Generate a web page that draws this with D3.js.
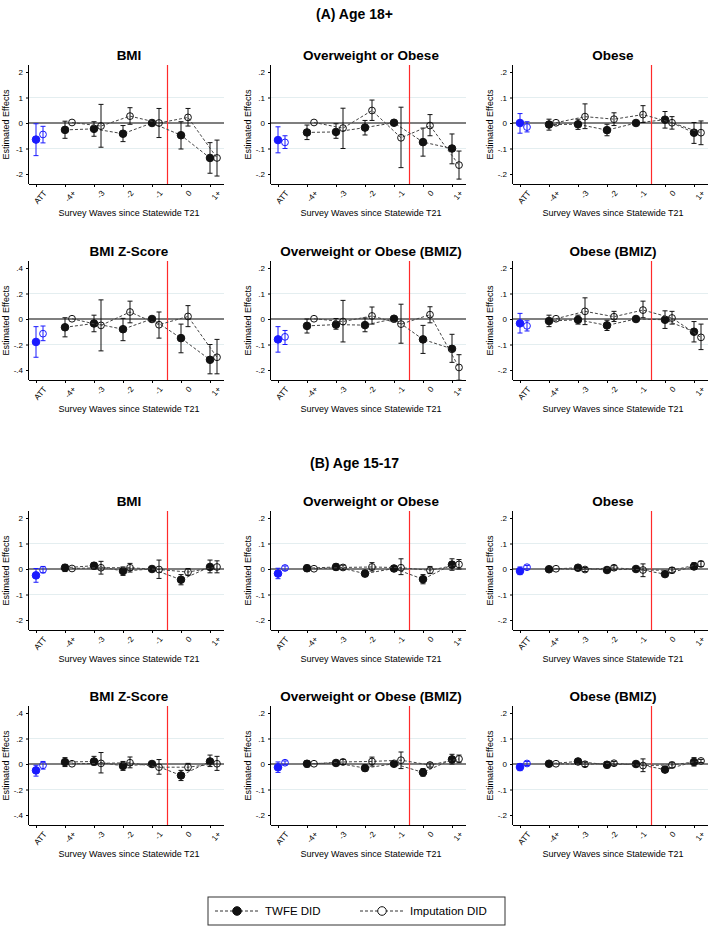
<!DOCTYPE html>
<html><head><meta charset="utf-8">
<script src="https://cdn.jsdelivr.net/npm/d3@7"></script>
<style>body{margin:0;background:#fff;font-family:"Liberation Sans",Arial,sans-serif}</style>
</head><body>
<script>
var categories = ["ATT", "-4+", "-3", "-2", "-1", "0", "1+"];
var sectionTitles = ["(A) Age 18+", "(B) Age 15-17"];
var panelTitles = ["BMI", "Overweight or Obese", "Obese", "BMI Z-Score", "Overweight or Obese (BMIZ)", "Obese (BMIZ)"];
var axisMax = [2, 0.2, 0.2, 0.4, 0.2, 0.2];
var tickLabels = [["2","1","0","-1","-2"], [".2",".1","0","-.1","-.2"], [".2",".1","0","-.1","-.2"],
                  [".4",".2","0","-.2","-.4"], [".2",".1","0","-.1","-.2"], [".2",".1","0","-.1","-.2"]];

// each entry: [estimate, lower, upper] for ATT, -4+, -3, -2, -1, 0, 1+
var twfeA = [
 [[-0.65,-1.28,-0.03],[-0.27,-0.6,0.07],[-0.23,-0.52,0.05],[-0.42,-0.73,-0.1],[0,0,0],[-0.48,-1.02,0.05],[-1.37,-1.97,-0.77]],
 [[-0.067,-0.117,-0.015],[-0.037,-0.065,-0.008],[-0.035,-0.06,-0.003],[-0.018,-0.047,0.01],[0.001,0.001,0.001],[-0.075,-0.13,-0.02],[-0.1,-0.16,-0.043]],
 [[0,-0.04,0.037],[-0.006,-0.028,0.015],[-0.005,-0.025,0.015],[-0.028,-0.05,-0.005],[0,0,0],[0.013,-0.02,0.045],[-0.038,-0.08,0.002]],
 [[-0.18,-0.3,-0.06],[-0.065,-0.14,0.01],[-0.035,-0.1,0.03],[-0.08,-0.17,0.005],[0,0,0],[-0.15,-0.265,-0.04],[-0.32,-0.43,-0.2]],
 [[-0.08,-0.13,-0.03],[-0.027,-0.055,0],[-0.022,-0.04,0.002],[-0.024,-0.05,0.004],[0.001,0.001,0.001],[-0.08,-0.135,-0.025],[-0.117,-0.17,-0.06]],
 [[-0.017,-0.055,0.022],[-0.008,-0.03,0.015],[-0.003,-0.02,0.015],[-0.025,-0.045,-0.005],[0,0,0],[-0.003,-0.037,0.032],[-0.05,-0.09,-0.01]]
];
var impA = [
 [[-0.45,-0.78,-0.13],[0.02,0.02,0.02],[-0.12,-0.95,0.73],[0.27,-0.05,0.6],[0,-0.57,0.57],[0.22,-0.12,0.57],[-1.37,-2.08,-0.67]],
 [[-0.076,-0.1,-0.05],[0.002,0.002,0.002],[-0.02,-0.1,0.058],[0.049,0.01,0.09],[-0.058,-0.175,0.062],[-0.01,-0.05,0.033],[-0.165,-0.22,-0.11]],
 [[-0.016,-0.035,0.005],[0.001,0.001,0.001],[0.025,-0.022,0.075],[0.015,-0.01,0.04],[0.033,0.002,0.068],[0.001,-0.024,0.025],[-0.038,-0.085,0.008]],
 [[-0.115,-0.17,-0.055],[0.002,0.002,0.002],[-0.05,-0.25,0.15],[0.055,-0.03,0.14],[-0.045,-0.15,0.055],[0.02,-0.06,0.105],[-0.3,-0.43,-0.16]],
 [[-0.07,-0.1,-0.045],[0.001,0.001,0.001],[-0.01,-0.09,0.073],[0.012,-0.02,0.047],[-0.02,-0.095,0.058],[0.017,-0.015,0.048],[-0.19,-0.24,-0.14]],
 [[-0.027,-0.047,-0.007],[0.001,0.001,0.001],[0.03,-0.022,0.083],[0.009,-0.01,0.03],[0.035,0.005,0.07],[0.004,-0.02,0.03],[-0.072,-0.12,-0.02]]
];
var twfeB = [
 [[-0.25,-0.52,0.02],[0.05,-0.1,0.18],[0.13,0,0.25],[-0.08,-0.25,0.08],[0,0,0],[-0.42,-0.62,-0.22],[0.08,-0.15,0.35]],
 [[-0.018,-0.038,0.003],[0.003,-0.01,0.015],[0.008,-0.004,0.02],[-0.018,-0.03,-0.005],[0.002,0.002,0.002],[-0.04,-0.058,-0.022],[0.017,-0.005,0.04]],
 [[-0.008,-0.022,0.008],[-0.001,-0.001,-0.001],[0.005,-0.003,0.012],[-0.004,-0.012,0.004],[0,0,0],[-0.02,-0.03,-0.01],[0.01,-0.002,0.025]],
 [[-0.05,-0.095,-0.01],[0.015,-0.02,0.05],[0.02,-0.01,0.06],[-0.015,-0.05,0.02],[0,0,0],[-0.09,-0.13,-0.05],[0.02,-0.02,0.07]],
 [[-0.013,-0.033,0.008],[0.001,-0.012,0.013],[0.004,-0.005,0.012],[-0.016,-0.028,-0.004],[0.001,0.001,0.001],[-0.033,-0.048,-0.018],[0.018,0,0.038]],
 [[-0.012,-0.026,0.002],[0.001,0.001,0.001],[0.01,0.004,0.016],[-0.003,-0.015,0.008],[0,0,0],[-0.022,-0.032,-0.012],[0.008,-0.008,0.025]]
];
var impB = [
 [[-0.03,-0.15,0.1],[0.02,0.02,0.02],[0.05,-0.2,0.3],[0.05,-0.12,0.22],[-0.02,-0.37,0.35],[-0.12,-0.25,0.02],[0.08,-0.15,0.32]],
 [[0.004,-0.005,0.012],[0.001,0.001,0.001],[0.006,-0.003,0.015],[0.008,-0.008,0.025],[0.005,-0.022,0.04],[-0.005,-0.018,0.01],[0.018,0,0.037]],
 [[0.007,0,0.014],[0.001,0.001,0.001],[-0.002,-0.01,0.006],[0.005,-0.004,0.013],[-0.004,-0.03,0.02],[-0.005,-0.015,0.006],[0.02,0.01,0.03]],
 [[-0.01,-0.04,0.02],[0.002,0.002,0.002],[0.005,-0.07,0.09],[0.01,-0.03,0.055],[-0.025,-0.08,0.035],[-0.025,-0.05,0.005],[0.002,-0.05,0.06]],
 [[0.005,-0.003,0.012],[0.001,0.001,0.001],[0.008,-0.002,0.018],[0.01,-0.008,0.027],[0.015,-0.018,0.047],[-0.004,-0.012,0.004],[0.02,0.005,0.035]],
 [[0.002,-0.006,0.01],[0.001,0.001,0.001],[-0.001,-0.01,0.008],[0.003,-0.005,0.01],[-0.006,-0.03,0.02],[-0.004,-0.015,0.007],[0.012,0.006,0.018]]
];
var legendLabels = ["TWFE DID", "Imputation DID"];

var W = 709, H = 926;
var svg = d3.select("body").append("svg").attr("width", W).attr("height", H)
  .style("font-family", '"Liberation Sans", Arial, sans-serif');

svg.append("text").attr("x", W/2).attr("y", 19).attr("text-anchor", "middle")
  .attr("font-weight", "bold").attr("font-size", 14).text(sectionTitles[0]);
svg.append("text").attr("x", W/2).attr("y", 468).attr("text-anchor", "middle")
  .attr("font-weight", "bold").attr("font-size", 14).text(sectionTitles[1]);

var rowTop = [72, 268, 518, 713];   // y pixel of top tick
var colLeft = [29, 271, 513];        // y axis x pixel
var span = 102;

function drawPanel(row, col, idx, twfe, imp) {
  var g = svg.append("g");
  var top = rowTop[row], left = colLeft[col];
  var m = axisMax[idx];
  var y = d3.scaleLinear().domain([m, -m]).range([top, top + span]);
  var x = d3.scalePoint().domain(categories).range([left + 7, left + 181]);
  var plotTop = top - 7, plotBottom = top + span + 10, right = left + 195;

  g.append("text").attr("x", left + 100).attr("y", top - 12).attr("text-anchor", "middle")
    .attr("font-weight", "bold").attr("font-size", 13.5).text(panelTitles[idx]);

  // faint grid
  [m/2, -m/2].forEach(function(v) {
    g.append("line").attr("x1", left).attr("x2", right).attr("y1", y(v)).attr("y2", y(v))
      .attr("stroke", "#e4eef0").attr("stroke-width", 1);
  });
  // zero line
  g.append("line").attr("x1", left).attr("x2", right).attr("y1", y(0)).attr("y2", y(0))
    .attr("stroke", "#555").attr("stroke-width", 1.6);
  // red line between -1 and 0
  var rx = (x("-1") + x("0")) / 2 + 1;
  g.append("line").attr("x1", rx).attr("x2", rx).attr("y1", plotTop).attr("y2", plotBottom)
    .attr("stroke", "#ff2a2a").attr("stroke-width", 1.2);

  // y axis
  var yAxis = g.append("g").attr("transform", "translate(" + left + ",0)")
    .call(d3.axisLeft(y).tickValues([m, m/2, 0, -m/2, -m]).tickSize(3)
      .tickFormat(function(d, i) { return tickLabels[idx][i]; }));
  yAxis.select(".domain").attr("d", "M-0.5," + plotTop + "V" + plotBottom);
  yAxis.selectAll("text").attr("font-size", 8).attr("font-family", '"Liberation Sans", Arial');
  // x axis
  var xAxis = g.append("g").attr("transform", "translate(0," + plotBottom + ")")
    .call(d3.axisBottom(x).tickSize(3));
  xAxis.select(".domain").attr("d", "M" + left + ",0.5H" + right);
  xAxis.selectAll("text").attr("font-size", 8).attr("font-family", '"Liberation Sans", Arial')
    .attr("fill", "#000")
    .attr("text-anchor", "end").attr("transform", "translate(3,3) rotate(-50)").attr("dy", "0.5em").attr("dx", "0");

  g.append("text").attr("x", left - 20).attr("y", (plotTop + plotBottom) / 2)
    .attr("transform", "rotate(-90," + (left - 20) + "," + ((plotTop + plotBottom) / 2) + ")")
    .attr("text-anchor", "middle").attr("font-size", 9).text("Estimated Effects");
  g.append("text").attr("x", left + 100).attr("y", top + 144).attr("text-anchor", "middle")
    .attr("font-size", 9).text("Survey Waves since Statewide T21");

  var series = [{d: twfe, off: 0, filled: true}, {d: imp, off: 7, filled: false}];
  series.forEach(function(s) {
    var pts = s.d.map(function(v, i) { return {c: categories[i], e: v[0], lo: v[1], hi: v[2]}; });
    var line = d3.line().x(function(p) { return x(p.c) + s.off; }).y(function(p) { return y(p.e); });
    g.append("path").attr("d", line(pts.slice(1))).attr("fill", "none")
      .attr("stroke", "#444").attr("stroke-width", 1).attr("stroke-dasharray", "3,2");
    pts.forEach(function(p, i) {
      var col = i === 0 ? "#1a1aff" : "#111";
      var cx = x(p.c) + s.off;
      if (p.hi - p.lo > 0.0001) {
        g.append("line").attr("x1", cx).attr("x2", cx).attr("y1", y(p.lo)).attr("y2", y(p.hi))
          .attr("stroke", col).attr("stroke-width", 1);
        [p.lo, p.hi].forEach(function(v) {
          g.append("line").attr("x1", cx - 2.5).attr("x2", cx + 2.5).attr("y1", y(v)).attr("y2", y(v))
            .attr("stroke", col).attr("stroke-width", 1);
        });
      }
      g.append("circle").attr("cx", cx).attr("cy", y(p.e))
        .attr("r", s.filled ? 3.8 : 3.4)
        .attr("fill", s.filled ? col : "none").attr("stroke", col).attr("stroke-width", 1);
    });
  });
}

for (var i = 0; i < 6; i++) {
  drawPanel(Math.floor(i / 3), i % 3, i, twfeA[i], impA[i]);
  drawPanel(2 + Math.floor(i / 3), i % 3, i, twfeB[i], impB[i]);
}

// legend
var lg = svg.append("g");
lg.append("rect").attr("x", 208).attr("y", 897).attr("width", 297).attr("height", 28)
  .attr("fill", "#fff").attr("stroke", "#333").attr("stroke-width", 1);
[{x: 215, filled: true}, {x: 360, filled: false}].forEach(function(d, i) {
  lg.append("line").attr("x1", d.x).attr("x2", d.x + 44).attr("y1", 911).attr("y2", 911)
    .attr("stroke", "#333").attr("stroke-dasharray", "3,2");
  lg.append("circle").attr("cx", d.x + 22).attr("cy", 911).attr("r", 4.3)
    .attr("fill", d.filled ? "#111" : "#fff").attr("stroke", "#111");
  lg.append("text").attr("x", d.x + 50).attr("y", 915).attr("font-size", 11.5).text(legendLabels[i]);
});
</script>
</body></html>
